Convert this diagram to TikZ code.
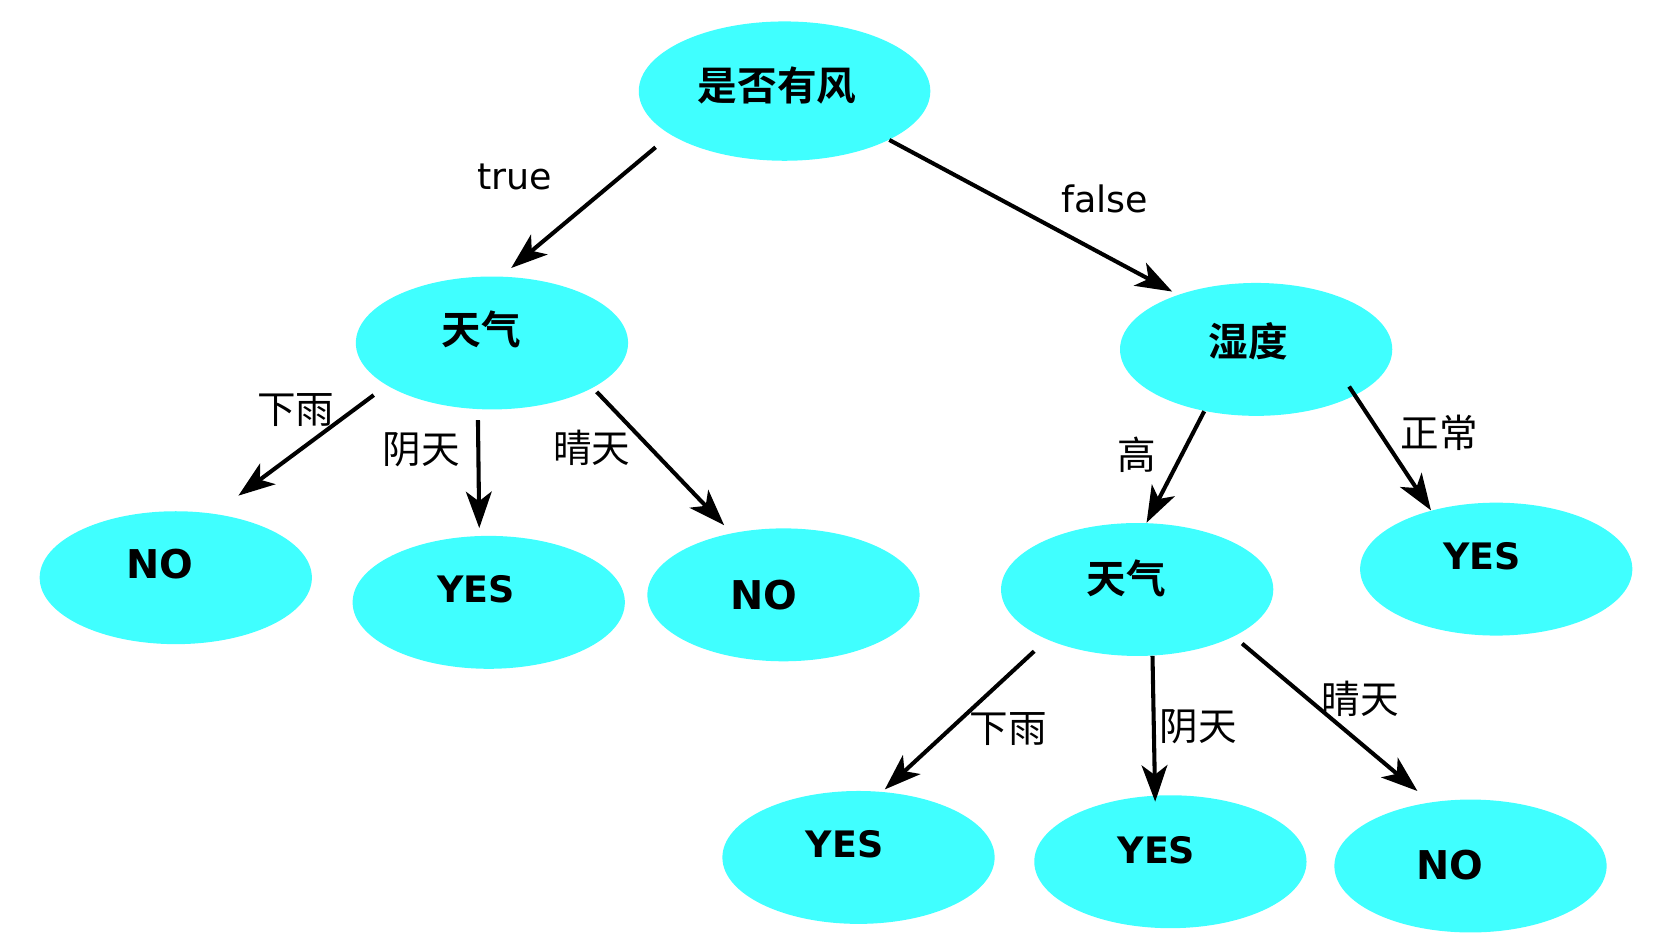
\documentclass[tikz,border=0pt]{standalone}
\usepackage{fontspec}
\setmainfont{DejaVu Sans}
\newfontfamily\cjk{Noto Sans CJK SC}[BoldFont={Noto Sans CJK SC Bold}]
\usetikzlibrary{shapes.geometric,arrows.meta}
\definecolor{nodecyan}{RGB}{64,255,255}
\tikzset{
  tnode/.style={ellipse,fill=nodecyan,minimum width=127pt,minimum height=62pt,inner sep=0pt},
  tarrow/.style={line width=1.9pt,-{Stealth[length=17pt,width=12pt,inset=4.5pt]}},
  ttext/.style={font=\cjk\bfseries\fontsize{18.5}{20}\selectfont,inner sep=0pt},
  tleaf/.style={font=\bfseries\fontsize{17}{19}\selectfont,inner sep=0pt},
  tlbl/.style={font=\cjk\fontsize{18}{20}\selectfont,inner sep=0pt},
  tword/.style={font=\fontsize{17}{19}\selectfont,inner sep=0pt}
}
\begin{document}
\begin{tikzpicture}[x=.5pt,y=-.5pt]
\useasboundingbox (0,0) rectangle (1560,882);
% Root and inner nodes
\node[tnode,minimum width=136pt,minimum height=65pt,label={[ttext,xshift=-3.5pt,yshift=2.5pt]center:是否有风}] (windy) at (732,85) {};
\node[tnode,label={[ttext,xshift=-5pt,yshift=6.5pt]center:天气}] (wthA) at (459,320) {};
\node[tnode,label={[ttext,xshift=-3.5pt,yshift=4pt]center:湿度}] (humid) at (1172,326) {};
\node[tnode,label={[ttext,xshift=-5pt,yshift=5pt]center:天气}] (wthB) at (1061,550) {};
% Leaves
\node[tnode,label={[tleaf,xshift=-7.5pt,yshift=6.5pt,font=\bfseries\fontsize{18.5}{20}\selectfont]center:NO}] (noA) at (164,539) {};
\node[tnode,label={[tleaf,xshift=-6pt,yshift=6pt]center:YES}] (yesA) at (456,562) {};
\node[tnode,label={[tleaf,xshift=-9pt,yshift=0pt,font=\bfseries\fontsize{18.5}{20}\selectfont]center:NO}] (noB) at (731,555) {};
\node[tnode,label={[tleaf,xshift=-6.5pt,yshift=6pt]center:YES}] (yesB) at (1396,531) {};
\node[tnode,label={[tleaf,xshift=-6.5pt,yshift=6pt]center:YES}] (yesC) at (801,800) {};
\node[tnode,label={[tleaf,xshift=-6.5pt,yshift=5.5pt]center:YES}] (yesD) at (1092,804) {};
\node[tnode,label={[tleaf,xshift=-9.5pt,yshift=.5pt,font=\bfseries\fontsize{18.5}{20}\selectfont]center:NO}] (noC) at (1372,808) {};
% Edges
\draw[tarrow,shorten <=9pt,shorten >=6pt] (windy.201) -- (wthA.82);
\draw[tarrow,shorten >=3pt] (windy.335) -- (humid.145);
\draw[tarrow,shorten <=7.5pt,shorten >=14pt] (wthA.202) -- (noA.59);
\draw[tarrow,shorten <=5pt,shorten >=3.5pt] (wthA.258) -- (yesA.98);
\draw[tarrow,shorten <=2.5pt,shorten >=5pt] (wthA.336) -- (noB.130);
\draw[tarrow] (humid.230) -- (wthB.82);
\draw[tarrow,shorten <=-5pt] (humid.335) -- (yesB.138);
\draw[tarrow,shorten <=8pt,shorten >=1.5pt] (wthB.209) -- (yesC.70);
\draw[tarrow,shorten >=-3pt] (wthB.283) -- (yesD.103);
\draw[tarrow,shorten <=5pt,shorten >=8pt] (wthB.334) -- (noC.122);
% Edge labels
\node[tword] (ltrue) at (480,165) {true};
\node[tword] (lfalse) at (1031,186) {false};
\node[tlbl] (lrainA) at (276,383) {下雨};
\node[tlbl] (lcloudA) at (393,420) {阴天};
\node[tlbl] (lsunA) at (552,418) {晴天};
\node[tlbl] (lhigh) at (1061,424) {高};
\node[tlbl] (lnorm) at (1343,404) {正常};
\node[tlbl] (lrainB) at (941,680) {下雨};
\node[tlbl] (lcloudB) at (1118,678) {阴天};
\node[tlbl] (lsunB) at (1269,652) {晴天};
\end{tikzpicture}
\end{document}
